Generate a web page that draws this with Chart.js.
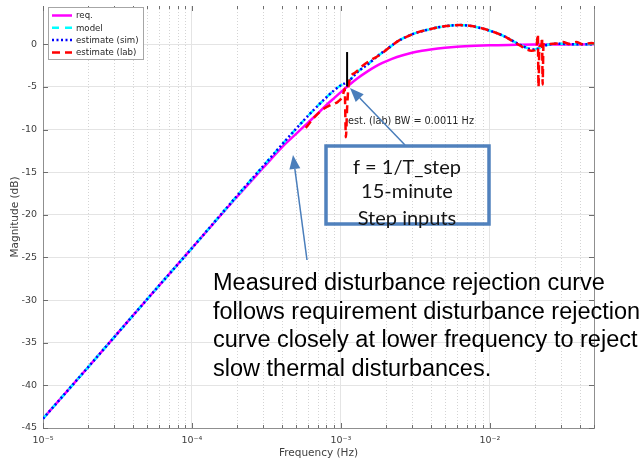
<!DOCTYPE html>
<html>
<head>
<meta charset="utf-8">
<script src="https://cdn.jsdelivr.net/npm/chart.js@4/dist/chart.umd.min.js"></script>
<style>
  html, body { margin: 0; padding: 0; background: #ffffff; }
  canvas { display: block; }
</style>
</head>
<body>
<canvas id="c" width="644" height="462"></canvas>
<script>
// Disturbance rejection magnitude (dB) versus frequency (Hz)

// requirement curve
const freqReq = [1e-5, 2e-5, 5e-5, 1e-4, 2e-4, 3e-4, 4e-4, 5e-4, 6e-4, 7e-4, 8e-4, 9e-4, 1e-3, 1.12e-3,
  1.3e-3, 1.5e-3, 1.7e-3, 1.9e-3, 2.2e-3, 2.6e-3, 3e-3, 3.5e-3, 4e-3, 5e-3, 6e-3, 8e-3, 1e-2, 1.5e-2, 2e-2, 5e-2];
const magReq = [-43.9, -37.9, -29.9, -23.9, -17.9, -14.5, -12.1, -10.5, -9.2, -8.1, -7.1, -6.3, -5.6, -4.85,
  -3.95, -3.2, -2.62, -2.18, -1.7, -1.27, -0.98, -0.75, -0.6, -0.4, -0.28, -0.16, -0.1, -0.05, -0.02, 0];

// model and simulated estimate
const freqModel = [1e-5, 2e-5, 5e-5, 1e-4, 2e-4, 3e-4, 4e-4, 5e-4, 6e-4, 7e-4, 8e-4, 9e-4, 1e-3, 1.12e-3,
  1.3e-3, 1.5e-3, 1.8e-3, 2.1e-3, 2.4e-3, 2.8e-3, 3.2e-3, 3.9e-3, 4.5e-3, 5.1e-3, 6.3e-3, 7.5e-3, 8.5e-3,
  1e-2, 1.1e-2, 1.25e-2, 1.43e-2, 1.6e-2, 1.76e-2, 1.95e-2, 2.1e-2, 2.28e-2, 2.5e-2, 2.8e-2, 3.2e-2, 4e-2, 5e-2];
const magModel = [-43.9, -37.9, -29.9, -23.9, -17.8, -14.3, -11.8, -9.9, -8.4, -7.2, -6.2, -5.4, -4.8, -4.35,
  -3.2, -2.4, -1.25, -0.4, 0.35, 0.95, 1.35, 1.75, 2.0, 2.15, 2.26, 2.15, 1.95,
  1.6, 1.35, 0.95, 0.39, -0.05, -0.4, -0.6, -0.5, -0.2, -0.02, 0.08, 0.05, 0, 0];
const freqSim = freqModel;
const magSim = [-43.9, -37.9, -29.9, -23.9, -17.8, -14.3, -11.8, -9.9, -8.4, -7.2, -6.2, -5.4, -4.8, -4.35,
  -3.2, -2.4, -1.25, -0.4, 0.35, 0.95, 1.35, 1.75, 2.0, 2.15, 2.26, 2.15, 1.95,
  1.6, 1.35, 0.95, 0.39, -0.05, -0.4, -0.6, -0.5, -0.2, -0.02, 0.08, 0.05, 0, 0];

// lab estimate
const freqLab = [5.8e-4, 6.6e-4, 7.6e-4, 8.6e-4, 9.6e-4, 1.03e-3, 1.06e-3, 1.08e-3, 1.10e-3, 1.13e-3,
  1.25e-3, 1.4e-3, 1.6e-3, 1.8e-3, 2.1e-3, 2.4e-3, 2.8e-3, 3.2e-3, 3.9e-3, 4.5e-3, 5.1e-3, 6.3e-3,
  7.5e-3, 8.5e-3, 1e-2, 1.25e-2, 1.43e-2, 1.6e-2, 1.76e-2, 1.9e-2, 2.05e-2, 2.1e-2, 2.12e-2, 2.15e-2,
  2.22e-2, 2.24e-2, 2.26e-2, 2.29e-2, 2.5e-2, 2.8e-2, 3.1e-2, 3.4e-2, 3.8e-2, 4.2e-2, 4.8e-2, 5e-2];
const magLab = [-9.8, -8.6, -7.6, -7.1, -6.7, -6.0, -5.2, -10.9, -7.5, -4.6,
  -3.3, -2.5, -1.8, -1.3, -0.4, 0.35, 0.95, 1.35, 1.75, 2.0, 2.15, 2.26,
  2.15, 1.95, 1.6, 0.95, 0.35, -0.15, -0.6, -0.75, -0.55, 1.2, -5.0, -0.3,
  -0.1, 0.8, -4.7, 0.0, 0.05, 0.1, 0.27, 0.05, 0.27, 0.0, 0.15, 0.1];

// estimated lab bandwidth marker
const bwFreq = 0.0011;
const bwMarkMag = [-0.9, -4.95];

// axis ticks
const yTicks = [-45, -40, -35, -30, -25, -20, -15, -10, -5, 0];
const xDecades = [1e-5, 1e-4, 1e-3, 1e-2];
const xDecadeLabels = ['10\u207B\u2075', '10\u207B\u2074', '10\u207B\u00B3', '10\u207B\u00B2'];

const seriesNames = ['req.', 'model', 'estimate (sim)', 'estimate (lab)'];

const pts = (xs, ys) => xs.map((x, i) => ({ x: x, y: ys[i] }));

// every 1..9 x 10^k frequency inside the axis range
const xRange = [1e-5, 5e-2];
const xAllTicks = [];
xDecades.forEach(d => { for (let m = 1; m <= 9; m++) { const v = +(m * d).toPrecision(3); if (v <= xRange[1] + 1e-12) xAllTicks.push(v); } });
const isDecade = v => xDecades.some(d => Math.abs(v - d) / d < 1e-6);

const tickFont = 'DejaVu Sans';

// MATLAB-like frame: minor dotted grid, box, inward ticks, legend and notes
const framePlugin = {
  id: 'frame',
  beforeDatasetsDraw(chart) {
    const { ctx, chartArea: a, scales: { x } } = chart;
    ctx.save();
    ctx.strokeStyle = '#d4d4d4';
    ctx.lineWidth = 1;
    ctx.setLineDash([1, 2]);
    xAllTicks.forEach(v => {
      if (isDecade(v)) return;
      const px = Math.round(x.getPixelForValue(v)) + 0.5;
      ctx.beginPath(); ctx.moveTo(px, a.top); ctx.lineTo(px, a.bottom); ctx.stroke();
    });
    ctx.restore();
  },
  afterDraw(chart) {
    const { ctx, chartArea: a, scales: { x, y } } = chart;
    ctx.save();
    // right border
    ctx.strokeStyle = '#8f8f8f';
    ctx.lineWidth = 1;
    ctx.beginPath(); ctx.moveTo(a.right + 0.5, a.top); ctx.lineTo(a.right + 0.5, a.bottom); ctx.stroke();
    // inward ticks
    ctx.strokeStyle = '#6e6e6e';
    yTicks.forEach(v => {
      const py = Math.round(y.getPixelForValue(v)) + 0.5;
      ctx.beginPath(); ctx.moveTo(a.left, py); ctx.lineTo(a.left + 5, py); ctx.stroke();
      ctx.beginPath(); ctx.moveTo(a.right, py); ctx.lineTo(a.right - 5, py); ctx.stroke();
    });
    xAllTicks.forEach(v => {
      const px = Math.round(x.getPixelForValue(v)) + 0.5;
      const len = isDecade(v) ? 5 : 3;
      ctx.beginPath(); ctx.moveTo(px, a.bottom); ctx.lineTo(px, a.bottom - len); ctx.stroke();
      ctx.beginPath(); ctx.moveTo(px, a.top); ctx.lineTo(px, a.top + len); ctx.stroke();
    });

    // legend
    const lx = 48, ly = 7, lw = 95, lh = 52;
    ctx.fillStyle = '#ffffff';
    ctx.fillRect(lx, ly, lw, lh);
    ctx.strokeStyle = '#a6a6a6';
    ctx.lineWidth = 1;
    ctx.strokeRect(lx + 0.5, ly + 0.5, lw, lh);
    ctx.font = '8.6px "' + tickFont + '"';
    ctx.textBaseline = 'middle';
    ctx.textAlign = 'left';
    const ds = chart.data.datasets;
    for (let i = 0; i < 4; i++) {
      const d = ds[i];
      const yy = ly + 8.5 + i * 12.3;
      ctx.strokeStyle = d.borderColor;
      ctx.lineWidth = d.borderWidth;
      ctx.setLineDash(d.borderDash || []);
      ctx.beginPath(); ctx.moveTo(lx + 4, yy); ctx.lineTo(lx + 24, yy); ctx.stroke();
      ctx.setLineDash([]);
      ctx.fillStyle = '#262626';
      ctx.fillText(seriesNames[i], lx + 28, yy + 0.5);
    }

    // bandwidth note
    ctx.font = '9.7px "' + tickFont + '"';
    ctx.fillStyle = '#262626';
    ctx.textBaseline = 'middle';
    ctx.fillText('est. (lab) BW = 0.0011 Hz', x.getPixelForValue(bwFreq) + 1, 121);

    // callout arrows
    const arrow = (x1, y1, x2, y2) => {
      const ang = Math.atan2(y2 - y1, x2 - x1);
      const hl = 14, hw = 5.5;
      const bx = x2 - hl * Math.cos(ang), by = y2 - hl * Math.sin(ang);
      ctx.strokeStyle = '#4a7ebb';
      ctx.fillStyle = '#4a7ebb';
      ctx.lineWidth = 1.5;
      ctx.beginPath(); ctx.moveTo(x1, y1); ctx.lineTo(bx, by); ctx.stroke();
      ctx.beginPath();
      ctx.moveTo(x2, y2);
      ctx.lineTo(bx + hw * Math.sin(ang), by - hw * Math.cos(ang));
      ctx.lineTo(bx - hw * Math.sin(ang), by + hw * Math.cos(ang));
      ctx.closePath(); ctx.fill();
    };
    arrow(405, 145, 350, 88);
    arrow(307, 260, 293, 155);

    // step-input callout box
    ctx.strokeStyle = '#5081bd';
    ctx.lineWidth = 3.5;
    ctx.strokeRect(326, 146, 163, 78);
    ctx.fillStyle = '#141414';
    ctx.textAlign = 'center';
    ctx.font = '20px Lato';
    ctx.fillText('f = 1/T_step', 407, 168);
    ctx.fillText('15-minute', 407, 192);
    ctx.fillText('Step inputs', 407, 219);

    // explanation text
    ctx.textAlign = 'left';
    ctx.fillStyle = '#000000';
    ctx.font = '23.5px "Liberation Sans"';
    const lines = ['Measured disturbance rejection curve',
      'follows requirement disturbance rejection',
      'curve closely at lower frequency to reject',
      'slow thermal disturbances.'];
    lines.forEach((t, i) => ctx.fillText(t, 213, 283.5 + i * 28.6));
    ctx.restore();
  }
};

new Chart(document.getElementById('c'), {
  type: 'line',
  data: {
    datasets: [
      { label: seriesNames[0], data: pts(freqReq, magReq), borderColor: '#ff00ff', borderWidth: 2.5, order: 4 },
      { label: seriesNames[1], data: pts(freqModel, magModel), borderColor: '#00ffff', borderWidth: 2.5, borderDash: [7, 6], order: 3 },
      { label: seriesNames[2], data: pts(freqSim, magSim), borderColor: '#0000ff', borderWidth: 2.5, borderDash: [2, 2.5], order: 2 },
      { label: seriesNames[3], data: pts(freqLab, magLab), borderColor: '#ff0000', borderWidth: 2.5, borderDash: [8, 5], order: 1 },
      { label: 'BW', data: pts([bwFreq, bwFreq], bwMarkMag), borderColor: '#000000', borderWidth: 2, order: 0 }
    ]
  },
  options: {
    responsive: false,
    animation: false,
    events: [],
    layout: { padding: { left: 0, right: 50, top: 6, bottom: 0 } },
    elements: {
      point: { radius: 0 },
      line: { cubicInterpolationMode: 'monotone', fill: false }
    },
    plugins: { legend: { display: false }, tooltip: { enabled: false } },
    scales: {
      x: {
        type: 'logarithmic',
        min: xRange[0],
        max: xRange[1],
        afterBuildTicks: s => { s.ticks = xAllTicks.map(v => ({ value: v })); },
        afterFit: s => { s.height = 34; s.paddingLeft = 0; s.paddingRight = 0; },
        ticks: {
          autoSkip: false, maxRotation: 0, minRotation: 0, padding: 7,
          color: '#404040', font: { family: tickFont, size: 9.5 },
          callback: v => { const i = xDecades.findIndex(d => Math.abs(v - d) / d < 1e-6); return i >= 0 ? xDecadeLabels[i] : ''; }
        },
        grid: { drawTicks: false, color: c => (c.tick && isDecade(c.tick.value)) ? '#e4e4e4' : 'rgba(0,0,0,0)' },
        border: { color: '#8f8f8f' },
        title: { display: true, text: 'Frequency (Hz)', color: '#404040', font: { family: tickFont, size: 10.5 }, padding: { top: 0, bottom: 2.4 } }
      },
      y: {
        type: 'linear',
        min: -45,
        max: 4.5,
        afterBuildTicks: s => { s.ticks = yTicks.map(v => ({ value: v })); },
        afterFit: s => { s.width = 43; s.paddingTop = 0; s.paddingBottom = 0; },
        ticks: { padding: 6, color: '#404040', font: { family: tickFont, size: 9.5 } },
        grid: { drawTicks: false, color: '#e4e4e4' },
        border: { color: '#8f8f8f' },
        title: { display: true, text: 'Magnitude (dB)', color: '#404040', font: { family: tickFont, size: 10.5 }, padding: { top: 8.7, bottom: 0 } }
      }
    }
  },
  plugins: [framePlugin]
});
</script>
</body>
</html>
